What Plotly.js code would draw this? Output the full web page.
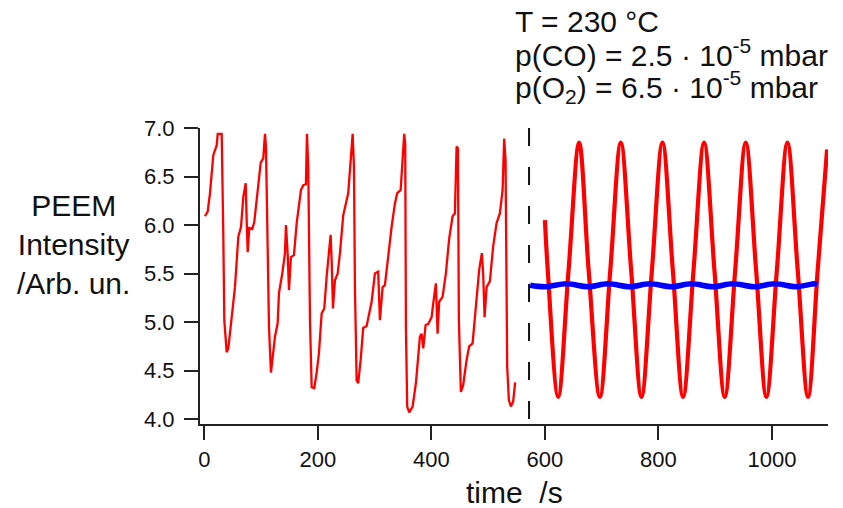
<!DOCTYPE html>
<html>
<head>
<meta charset="utf-8">
<script src="https://cdn.plot.ly/plotly-3.0.1.min.js"></script>
<style>
  html, body { margin: 0; padding: 0; background: #ffffff; }
  #chart { width: 843px; height: 508px; }
</style>
</head>
<body>
<div id="chart"></div>
<script>
// ---- Data ----
// Uncontrolled oscillations (thin red trace), time in s
const leftTime = [1.2, 6.0, 10.0, 15.8, 21.8, 23.6, 30.6, 31.7, 33.5, 35.2, 39.4, 42.3, 48.2, 54.0, 59.9, 64.6, 68.7, 72.9, 74.6, 76.4,
  79.2, 84.5, 88.0, 94.0, 99.3, 103.9, 106.9, 108.6, 111.6, 113.9, 117.4, 121.5, 124.5, 129.2, 131.5, 137.3, 142.1, 143.8, 146.8, 149.1,
  152.6, 157.9, 162.7, 170.2, 174.3, 179.0, 180.8, 183.1, 186.1, 189.1, 193.7, 197.9, 201.9, 206.7, 211.3, 215.5, 219.5, 222.5, 224.3, 226.6,
  230.1, 234.9, 238.9, 244.7, 253.5, 258.3, 261.3, 263.6, 265.3, 268.3, 271.1, 275.4, 279.9, 285.9, 290.0, 294.7, 300.5, 306.3, 309.3, 314.1,
  318.1, 323.9, 329.9, 335.7, 339.8, 345.8, 349.3, 352.1, 353.9, 355.1, 357.4, 360.9, 366.9, 372.7, 379.8, 382.7, 385.6, 389.8, 394.4, 400.4,
  403.2, 407.9, 410.9, 413.7, 419.7, 425.5, 431.3, 437.3, 441.4, 444.4, 446.7, 448.4, 451.9, 456.0, 462.0, 466.5, 472.5, 476.6, 480.6, 484.2,
  488.9, 491.2, 493.7, 497.2, 503.0, 508.8, 514.8, 520.6, 525.4, 528.2, 530.6, 533.5, 536.4, 540.0, 544.0, 547.5];
const leftIntensity = [6.09, 6.14, 6.33, 6.72, 6.82, 6.94, 6.94, 6.60, 5.88, 5.02, 4.69, 4.73, 5.02, 5.36, 5.88, 5.98, 6.29, 6.43, 6.05, 5.72,
  5.97, 5.96, 6.03, 6.33, 6.64, 6.69, 6.94, 6.81, 5.71, 4.95, 4.48, 4.68, 4.85, 4.99, 5.30, 5.50, 5.71, 6.00, 5.71, 5.33,
  5.67, 5.69, 6.02, 6.36, 6.41, 6.42, 6.94, 6.60, 5.02, 4.33, 4.32, 4.48, 4.68, 5.09, 5.14, 5.47, 5.71, 5.90, 5.64, 5.14,
  5.43, 5.50, 5.71, 6.10, 6.33, 6.74, 6.94, 6.60, 5.36, 4.40, 4.37, 4.61, 4.94, 4.96, 5.09, 5.21, 5.50, 5.52, 5.02, 5.36,
  5.38, 5.71, 5.98, 6.22, 6.33, 6.36, 6.74, 6.94, 6.84, 4.95, 4.13, 4.07, 4.13, 4.37, 4.85, 4.88, 4.73, 4.97, 4.98, 5.05,
  5.19, 5.40, 4.88, 5.21, 5.26, 5.50, 5.86, 6.09, 6.12, 6.81, 6.79, 5.02, 4.28, 4.35, 4.61, 4.75, 4.78, 5.02, 5.30, 5.54,
  5.71, 5.50, 5.05, 5.36, 5.42, 5.78, 6.02, 6.12, 6.36, 6.89, 6.67, 4.54, 4.20, 4.13, 4.18, 4.38];

// Controlled oscillations (thick red trace)
const rightTime = [600.0, 604.9, 623.2, 641.7, 660.2, 676.9, 696.7, 715.2, 733.6, 751.8, 770.0, 788.5, 807.0, 825.2, 843.3,
  861.8, 880.3, 898.5, 916.7, 935.2, 953.7, 971.9, 990.1, 1008.6, 1027.1, 1045.2, 1063.4, 1080.5, 1097.0];
const rightIntensity = [6.05, 5.54, 4.23, 5.54, 6.85, 5.54, 4.23, 5.54, 6.85, 5.54, 4.23, 5.54, 6.85, 5.54, 4.23,
  5.54, 6.85, 5.54, 4.23, 5.54, 6.85, 5.54, 4.23, 5.54, 6.85, 5.54, 4.23, 5.54, 6.78];

// Blue trace
const blueTime = [574, 601, 638, 676, 711, 749.5, 784.7, 823, 858, 896, 931, 969.5, 1004.7, 1043, 1075, 1080];
const blueIntensity = [5.38, 5.365, 5.395, 5.365, 5.395, 5.365, 5.395, 5.365, 5.395, 5.365, 5.395, 5.365, 5.395, 5.365, 5.395, 5.39];

// Switch time (dashed marker)
const switchTime = [572, 572];
const switchLevel = [7.0, 3.95];

// Ticks
const xTickVals = [0, 200, 400, 600, 800, 1000];
const yTickVals = [4.0, 4.5, 5.0, 5.5, 6.0, 6.5, 7.0];

const FONT = '"Liberation Sans", Arial, Helvetica, sans-serif';

const traces = [
  { x: leftTime, y: leftIntensity, type: 'scatter', mode: 'lines',
    line: { color: '#ff0000', width: 2.3 }, hoverinfo: 'skip' },
  { x: rightTime, y: rightIntensity, type: 'scatter', mode: 'lines',
    line: { color: '#ff0000', width: 4.2, shape: 'spline', smoothing: 1 }, hoverinfo: 'skip' },
  { x: blueTime, y: blueIntensity, type: 'scatter', mode: 'lines',
    line: { color: '#0000ff', width: 5.5, shape: 'spline', smoothing: 1 }, hoverinfo: 'skip' },
  { x: switchTime, y: switchLevel, type: 'scatter', mode: 'lines',
    line: { color: '#111111', width: 2, dash: '18px,21px' }, hoverinfo: 'skip' }
];

const layout = {
  width: 843, height: 508,
  margin: { l: 200, r: 15, t: 128, b: 84, pad: 0 },
  paper_bgcolor: '#ffffff', plot_bgcolor: '#ffffff',
  showlegend: false,
  font: { family: FONT, color: '#111111' },
  xaxis: {
    range: [-7.6, 1098.6], tickvals: xTickVals, ticks: 'outside', ticklen: 14, tickwidth: 2,
    tickcolor: '#222222', showline: true, linewidth: 2, linecolor: '#222222',
    showgrid: false, zeroline: false, tickfont: { size: 22, family: FONT, color: '#111111' },
    ticklabelstandoff: 1
  },
  yaxis: {
    range: [3.95, 7.0], tickvals: yTickVals, tickformat: '.1f', ticks: 'outside', ticklen: 14, tickwidth: 2,
    tickcolor: '#222222', showline: true, linewidth: 2, linecolor: '#222222',
    showgrid: false, zeroline: false, tickfont: { size: 22, family: FONT, color: '#111111' },
    ticklabelstandoff: 5
  },
  annotations: [
    { text: 'T = 230 °C', xref: 'paper', yref: 'paper', x: 0.498, y: 1.36,
      xanchor: 'left', yanchor: 'middle', showarrow: false, font: { size: 30, family: FONT, color: '#111111' } },
    { text: 'p(CO) = 2.5 \u00B7 10<sup>-5</sup> mbar', xref: 'paper', yref: 'paper', x: 0.498, y: 1.252,
      xanchor: 'left', yanchor: 'middle', showarrow: false, font: { size: 30, family: FONT, color: '#111111' } },
    { text: 'p(O<sub>2</sub>) = 6.5 \u00B7 10<sup>-5</sup> mbar', xref: 'paper', yref: 'paper', x: 0.498, y: 1.138,
      xanchor: 'left', yanchor: 'middle', showarrow: false, font: { size: 30, family: FONT, color: '#111111' } },
    { text: 'PEEM<br>Intensity<br>/Arb. un.', xref: 'paper', yref: 'paper', x: -0.202, y: 0.608,
      xanchor: 'center', yanchor: 'middle', align: 'center', showarrow: false, font: { size: 30, family: FONT, color: '#111111' } },
    { text: 'time\u00A0\u00A0/s', xref: 'paper', yref: 'paper', x: 0.5, y: -0.23,
      xanchor: 'center', yanchor: 'middle', showarrow: false, font: { size: 30, family: FONT, color: '#111111' } }
  ]
};

Plotly.newPlot('chart', traces, layout, { staticPlot: true, displayModeBar: false });
</script>
</body>
</html>
